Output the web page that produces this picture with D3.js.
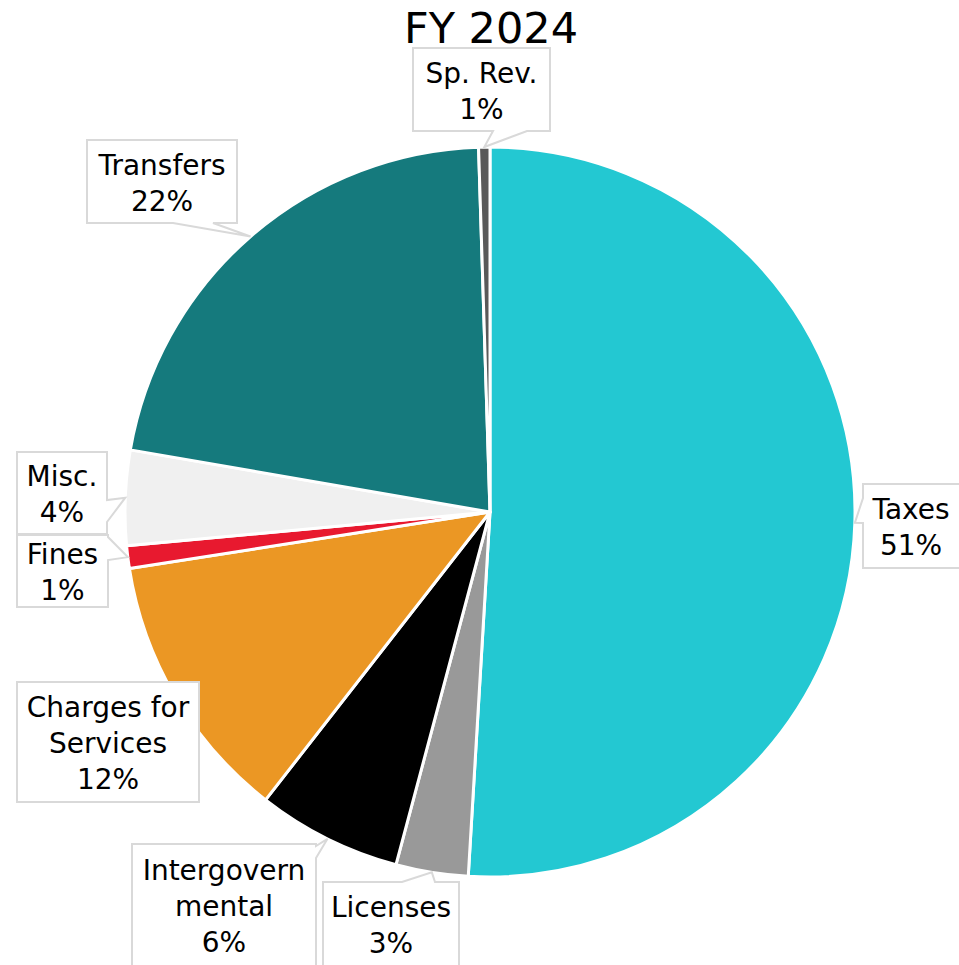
<!DOCTYPE html>
<html>
<head>
<meta charset="utf-8">
<script src="https://cdn.jsdelivr.net/npm/d3@7"></script>
<style>
  body { margin: 0; background: #fff; }
  svg { display: block; font-family: "DejaVu Sans", sans-serif; }
</style>
</head>
<body>
<svg id="pie" width="959" height="965"></svg>
<script>
// data, clockwise from 12 o'clock
const categories = ["Taxes", "Licenses", "Intergovernmental", "Charges for Services", "Fines", "Misc.", "Transfers", "Sp. Rev."]
const shares = [51.0, 3.2, 6.4, 12.0, 1.0, 4.2, 21.8, 0.5]
const pctLabels = ["51%", "3%", "6%", "12%", "1%", "4%", "22%", "1%"]
const labelLines = [["Taxes"], ["Licenses"], ["Intergovern", "mental"], ["Charges for", "Services"], ["Fines"], ["Misc."], ["Transfers"], ["Sp. Rev."]]
const colors = ["#23c8d2", "#999999", "#000000", "#eb9724", "#e8192f", "#f0f0f0", "#157a7d", "#595959"]

// callout boxes [x0, y0, x1, y1], side the pointer leaves from, and where on that side
const callouts = [
    {box: [863, 484, 975, 568], side: "left", a: 498, b: 523},
    {box: [323, 882, 459, 975], side: "top", a: 402, b: 435},
    {box: [132, 844, 316, 975], side: "right", a: 846, b: 858},
    {box: [17, 682, 199, 802], side: null},
    {box: [17, 535, 108, 607], side: "right", a: 537, b: 560},
    {box: [17, 452, 107, 534], side: "right", a: 500, b: 522},
    {box: [87, 140, 237, 223], side: "bottom", a: 173, b: 213},
    {box: [413, 48, 550, 131], side: "bottom", a: 493, b: 527}
]

const width = 959, height = 965
const cx = 490, cy = 512, R = 365
const fontSize = 28, lineH = 36

const svg = d3.select("#pie")

svg.append("text")
    .attr("x", 491)
    .attr("y", 43)
    .attr("text-anchor", "middle")
    .attr("font-size", 43)
    .attr("fill", "#000")
    .text("FY 2024")

const data = categories.map((c, i) => ({name: c, value: shares[i], i: i}))

const pie = d3.pie().sort(null).value(d => d.value)
const arcs = pie(data)
const arc = d3.arc().innerRadius(0).outerRadius(R)
const edge = d3.arc().innerRadius(R).outerRadius(R)

const g = svg.append("g").attr("transform", "translate(" + cx + "," + cy + ")")

g.selectAll("path.slice")
    .data(arcs)
    .enter().append("path")
    .attr("class", "slice")
    .attr("d", arc)
    .attr("fill", d => colors[d.data.i])
    .attr("stroke", "#fff")
    .attr("stroke-width", 3)
    .attr("stroke-linejoin", "round")

// callout shape: rectangle with a wedge pointing at the slice edge
function calloutPath(c, tip) {
    const [x0, y0, x1, y1] = c.box
    const t = tip[0] + "," + tip[1]
    if (c.side === "bottom")
        return `M${x0},${y0}H${x1}V${y1}H${c.b}L${t}L${c.a},${y1}H${x0}Z`
    if (c.side === "top")
        return `M${x0},${y0}H${c.a}L${t}L${c.b},${y0}H${x1}V${y1}H${x0}Z`
    if (c.side === "left")
        return `M${x0},${y0}H${x1}V${y1}H${x0}V${c.b}L${t}L${x0},${c.a}Z`
    if (c.side === "right")
        return `M${x0},${y0}H${x1}V${c.a}L${t}L${x1},${c.b}V${y1}H${x0}Z`
    return `M${x0},${y0}H${x1}V${y1}H${x0}Z`
}

const labels = svg.append("g")

arcs.forEach(d => {
    const i = d.data.i
    const c = callouts[i]
    const p = edge.centroid(d)
    const tip = [cx + p[0], cy + p[1]]

    labels.append("path")
        .attr("d", calloutPath(c, tip))
        .attr("fill", "#fff")
        .attr("stroke", "#d9d9d9")
        .attr("stroke-width", 2)

    const lines = labelLines[i].concat([pctLabels[i]])
    const bx = (c.box[0] + Math.min(c.box[2], width)) / 2
    const bcy = (c.box[1] + Math.min(c.box[3], height)) / 2
    const n = lines.length
    const t = labels.append("text")
        .attr("text-anchor", "middle")
        .attr("font-size", fontSize)
        .attr("fill", "#000")
    lines.forEach((s, k) => {
        t.append("tspan")
            .attr("x", bx)
            .attr("y", bcy + (k - (n - 1) / 2) * lineH + 11)
            .text(s)
    })
})
</script>
</body>
</html>
